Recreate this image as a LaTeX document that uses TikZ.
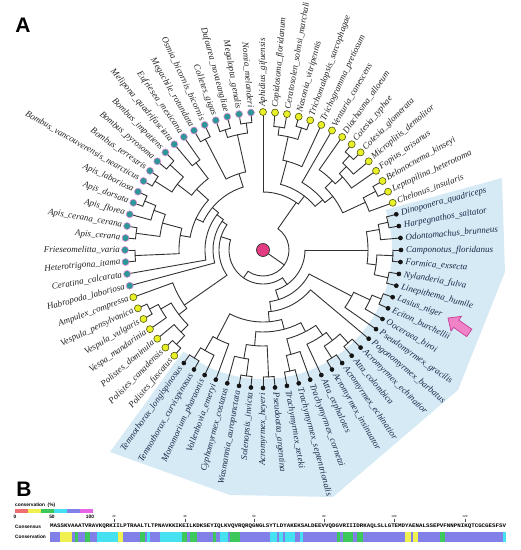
\documentclass[tikz,border=0pt]{standalone}
\usepackage{fontspec}
\setmainfont{Liberation Serif}
\setsansfont{Liberation Sans}
\setmonofont{Liberation Mono}
\usepackage{graphicx}
\usetikzlibrary{positioning}

\definecolor{beeteal}{RGB}{45,150,150}
\definecolor{beeedge}{RGB}{225,140,215}
\definecolor{waspyellow}{RGB}{232,240,40}
\definecolor{waspedge}{RGB}{85,85,20}
\definecolor{antblack}{RGB}{20,20,20}
\definecolor{antnavy}{RGB}{25,40,70}
\definecolor{labelgray}{RGB}{35,35,35}
\definecolor{antshade}{RGB}{214,234,246}
\definecolor{rootpink}{RGB}{228,60,130}
\definecolor{arrowpink}{RGB}{240,130,200}
\definecolor{arrowedge}{RGB}{200,60,150}
\definecolor{branchgray}{RGB}{50,50,50}
\definecolor{consblue}{RGB}{128,128,232}
\definecolor{conscyan}{RGB}{70,225,240}
\definecolor{consgreen}{RGB}{60,200,90}
\definecolor{consyel}{RGB}{240,240,80}
\definecolor{consred}{RGB}{240,110,110}
\definecolor{consmag}{RGB}{230,100,230}

\tikzstyle{branch} = [line width=0.9pt, branchgray, line cap=round]
\tikzstyle{leaflab} = [font=\fontsize{9}{9}\selectfont\itshape, inner sep=0pt]
\tikzstyle{panellab} = [font=\fontsize{21}{21}\selectfont\bfseries\sffamily, inner sep=0pt]
\tikzstyle{tinylab} = [font=\fontsize{4.8}{5}\selectfont\bfseries\sffamily, inner sep=0pt]

\def\tipr{138pt}
% clade over leaves #1..#3, split after #2, radius #4, parent radius #5
\newcommand{\clade}[5]{%
  \pgfmathsetmacro\cAng{90-2.5*(#1+#3)}%
  \pgfmathsetmacro\cA{90-2.5*(#1+#2)}%
  \pgfmathtruncatemacro\kk{#2+1}%
  \pgfmathsetmacro\cB{90-2.5*(\kk+#3)}%
  \draw[branch] (\cAng:#5pt) -- (\cAng:#4pt);%
  \draw[branch] (\cA:#4pt) arc[start angle=\cA, end angle=\cB, radius=#4pt];%
  \ifnum#1=#2 \draw[branch] (\cA:#4pt) -- (\cA:\tipr);\fi%
  \ifnum\kk=#3 \draw[branch] (\cB:#4pt) -- (\cB:\tipr);\fi%
}

\begin{document}
\begin{tikzpicture}[x=1pt, y=1pt]
\useasboundingbox (-263,-300) rectangle (258,250);

% ant clade shading
\fill[antshade] (129,42) -- (239,72) -- (242,-22) -- (195,-140) -- (70,-247) -- (-33,-245) -- (-153,-202) -- (-128:147pt) -- (-128:129pt) arc[start angle=-128, end angle=18, radius=129pt] -- cycle;

% root
\draw[branch] (0,0) -- (-35:26pt);
\draw[branch] (55:26pt) arc[start angle=55, end angle=-125, radius=26pt];

% parasitoid wasps
\clade{0}{0}{14}{58}{26}
\clade{1}{5}{14}{68}{58}
\clade{1}{4}{5}{92}{68}
\clade{1}{2}{4}{116}{92}
\clade{1}{1}{2}{124}{116}
\clade{3}{3}{4}{128}{116}
\clade{6}{6}{14}{78}{68}
\clade{7}{11}{14}{88}{78}
\clade{7}{7}{11}{98}{88}
\clade{8}{10}{11}{108}{98}
\clade{8}{9}{10}{118}{108}
\clade{8}{8}{9}{128}{118}
\clade{12}{13}{14}{113}{88}
\clade{12}{12}{13}{127}{113}

% aculeates
\clade{15}{43}{71}{34}{26}

% ants
\clade{15}{21}{43}{42}{34}
\clade{15}{17}{21}{105}{42}
\clade{15}{16}{17}{118}{105}
\clade{15}{15}{16}{128}{118}
\clade{18}{19}{21}{114}{105}
\clade{18}{18}{19}{130}{114}
\clade{20}{20}{21}{128}{114}
\clade{22}{25}{43}{52}{42}
\clade{22}{24}{25}{100}{52}
\clade{22}{23}{24}{118}{100}
\clade{22}{22}{23}{128}{118}
\clade{26}{26}{43}{62}{52}
\clade{27}{39}{43}{72}{62}
\clade{40}{40}{43}{100}{72}
\clade{41}{41}{43}{116}{100}
\clade{42}{42}{43}{128}{116}
\clade{27}{34}{39}{82}{72}
\clade{27}{31}{34}{92}{82}
\clade{27}{30}{31}{104}{92}
\clade{27}{28}{30}{114}{104}
\clade{27}{27}{28}{126}{114}
\clade{29}{29}{30}{128}{114}
\clade{32}{32}{34}{108}{92}
\clade{33}{33}{34}{124}{108}
\clade{35}{36}{39}{96}{82}
\clade{35}{35}{36}{127}{96}
\clade{37}{38}{39}{110}{96}
\clade{37}{37}{38}{127}{110}

% vespids and bees
\clade{44}{50}{71}{44}{34}
\clade{44}{49}{50}{96}{44}
\clade{44}{46}{49}{106}{96}
\clade{44}{45}{46}{116}{106}
\clade{44}{44}{45}{128}{116}
\clade{47}{47}{49}{118}{106}
\clade{48}{48}{49}{128}{118}
\clade{51}{51}{71}{50}{44}
\clade{52}{52}{71}{58}{50}
\clade{53}{65}{71}{66}{58}
\clade{66}{67}{71}{80}{66}
\clade{66}{66}{67}{125}{80}
\clade{68}{69}{71}{118}{80}
\clade{68}{68}{69}{126}{118}
\clade{70}{70}{71}{128}{118}
\clade{53}{59}{65}{74}{66}
\clade{53}{54}{59}{84}{74}
\clade{53}{53}{54}{128}{84}
\clade{55}{56}{59}{104}{84}
\clade{55}{55}{56}{128}{104}
\clade{57}{57}{59}{116}{104}
\clade{58}{58}{59}{128}{116}
\clade{60}{63}{65}{90}{74}
\clade{60}{61}{63}{108}{90}
\clade{60}{60}{61}{128}{108}
\clade{62}{62}{63}{126}{108}
\clade{64}{64}{65}{110}{90}

% tips and labels
\foreach \nm [count=\j from 0] in {Aphidius\_gifuensis, Copidosoma\_floridanum, Ceratosolen\_solmsi\_marchali, Nasonia\_vitripennis, Trichomalopsis\_sarcophagae, Trichogramma\_pretiosum, Venturia\_canescens, Diachasma\_alloeum, Cotesia\_typhae, Cotesia\_glomerata, Microplitis\_demolitor, Fopius\_arisanus, Belonocnema\_kinseyi, Leptopilina\_heterotoma, Chelonus\_insularis, Dinoponera\_quadriceps, Harpegnathos\_saltator, Odontomachus\_brunneus, Camponotus\_floridanus, Formica\_exsecta, Nylanderia\_fulva, Linepithema\_humile, Lasius\_niger, Eciton\_burchellii, Ooceraea\_biroi, Pseudomyrmex\_gracilis, Pogonomyrmex\_barbatus, Acromyrmex\_echinatior, Atta\_colombica, Acromyrmex\_echinatior, Acromyrmex\_insinuator, Atta\_cephalotes, Trachymyrmex\_cornetzi, Trachymyrmex\_septentrionalis, Trachymyrmex\_zeteki, Pseudoatta\_argentina, Acromyrmex\_heyeri, Solenopsis\_invicta, Wasmannia\_auropunctata, Cyphomyrmex\_costatus, Vollenhovia\_emeryi, Monomorium\_pharaonis, Temnothorax\_curvispinosus, Temnothorax\_longispinosus, Polistes\_fuscatus, Polistes\_canadensis, Polistes\_dominula, Vespa\_mandarinia, Vespula\_vulgaris, Vespula\_pensylvanica, Ampulex\_compressa, Habropoda\_laboriosa, Ceratina\_calcarata, Heterotrigona\_itama, Frieseomelitta\_varia, Apis\_cerana, Apis\_cerana\_cerana, Apis\_florea, Apis\_dorsata, Apis\_laboriosa, Bombus\_vancouverensis\_nearcticus, Bombus\_terrestris, Bombus\_pyrosoma, Bombus\_impatiens, Melipona\_quadrifasciata, Eufriesea\_mexicana, Megachile\_rotundata, Osmia\_bicornis\_bicornis, Colletes\_gigas, Dufourea\_novaeangliae, Megalopta\_genalis, Nomia\_melanderi}{
  \pgfmathsetmacro\th{90-5*\j}
  \ifnum\j<36 \let\rot\th \def\anc{west}\else \pgfmathsetmacro\rot{\th+180}\def\anc{east}\fi
  \ifnum\j<15 \def\dfill{waspyellow}\def\ddraw{waspedge}\def\dsize{7pt}\def\lcol{labelgray}%
  \else\ifnum\j<44 \def\dfill{antblack}\def\ddraw{antblack}\def\dsize{4pt}\def\lcol{antnavy}%
  \else\ifnum\j<51 \def\dfill{waspyellow}\def\ddraw{waspedge}\def\dsize{7pt}\def\lcol{labelgray}%
  \else \def\dfill{beeteal}\def\ddraw{beeedge}\def\dsize{7pt}\def\lcol{labelgray}\fi\fi\fi
  \node[circle, fill=\dfill, draw=\ddraw, line width=0.6pt, minimum size=\dsize, inner sep=0pt] (tip\j) at (\th:\tipr) {};
  \node[leaflab, text=\lcol, rotate=\rot, anchor=\anc] (lab\j) at (\th:143pt) {\nm};
}

% root marker
\node[circle, fill=rootpink, draw=black!80, line width=0.7pt, minimum size=13pt, inner sep=0pt] (root) at (0,0) {};

% pointer to Lasius niger
\begin{scope}[shift={(185,-68)}, rotate=145]
  \filldraw[fill=arrowpink, draw=arrowedge, line width=0.7pt] (0,0) -- (-10,9) -- (-10,4.5) -- (-26,4.5) -- (-26,-4.5) -- (-10,-4.5) -- (-10,-9) -- cycle;
\end{scope}

% panel letters
\node[panellab] (labA) at (-240,225) {A};
\node[panellab] (labB) at (-239,-239) {B};

% panel B legend
\node[tinylab, anchor=west] (constitle) at (-248,-255) {conservation\ \ (\%)};
\foreach \cc [count=\k from 0] in {consred, consyel, consgreen, conscyan, consblue, consmag}
  \fill[fill=\cc] (-248+13*\k,-259) rectangle (-235+13*\k,-263);
\node[tinylab] (t0) at (-248,-267) {0};
\node[tinylab] (t50) at (-211,-267) {50};
\node[tinylab] (t100) at (-173,-267) {100};

% ruler
\foreach \xx/\nn in {114/20, 185/40, 254/60, 324/80, 394/100, 465/120}{
  \node[font=\fontsize{3}{3}\selectfont\sffamily, inner sep=0pt] at (\xx-263,-266) {\nn};
  \draw[line width=0.3pt, black!70] (\xx-263,-268.5) -- (\xx-263,-271.5);
}

% consensus and conservation rows
\node[tinylab, anchor=west] (consname) at (-248,-276.5) {Consensus};
\node[inner sep=0pt, anchor=west] (consseq) at (-213,-276.5) {\resizebox{456pt}{3.6pt}{\ttfamily\bfseries MASSKVAAATVRAVKQRKIILPTRAALTLTPNAVKKIKEILKDKSEYIQLKVQVRQRQGNGLSYTLDYAKEKSALDEEVVQDGVRIIIDRKAQLSLLGTEMDYAENALSSEPVFNNPNIKQTCGCGESFSV}};
\node[tinylab, anchor=west] (conslab) at (-248,-287) {Conservation};
\fill[consblue] (-213,-282) rectangle (243,-292);
\foreach \xa/\xb/\cc in {60/72/consyel, 118/123/consyel, 405/411/consyel, 413/418/consyel,
  75/78/consgreen, 85/90/consgreen, 140/145/consgreen, 182/187/consgreen, 190/197/consgreen, 213/216/consgreen, 230/240/consgreen, 337/340/consgreen, 343/353/consgreen, 357/363/consgreen, 440/445/consgreen,
  97/118/conscyan, 147/150/conscyan, 160/182/conscyan, 220/228/conscyan, 270/277/conscyan, 279/283/conscyan, 285/295/conscyan, 300/303/conscyan, 503/506/conscyan}
  \fill[fill=\cc] (\xa-263,-282) rectangle (\xb-263,-292);
\end{tikzpicture}
\end{document}
